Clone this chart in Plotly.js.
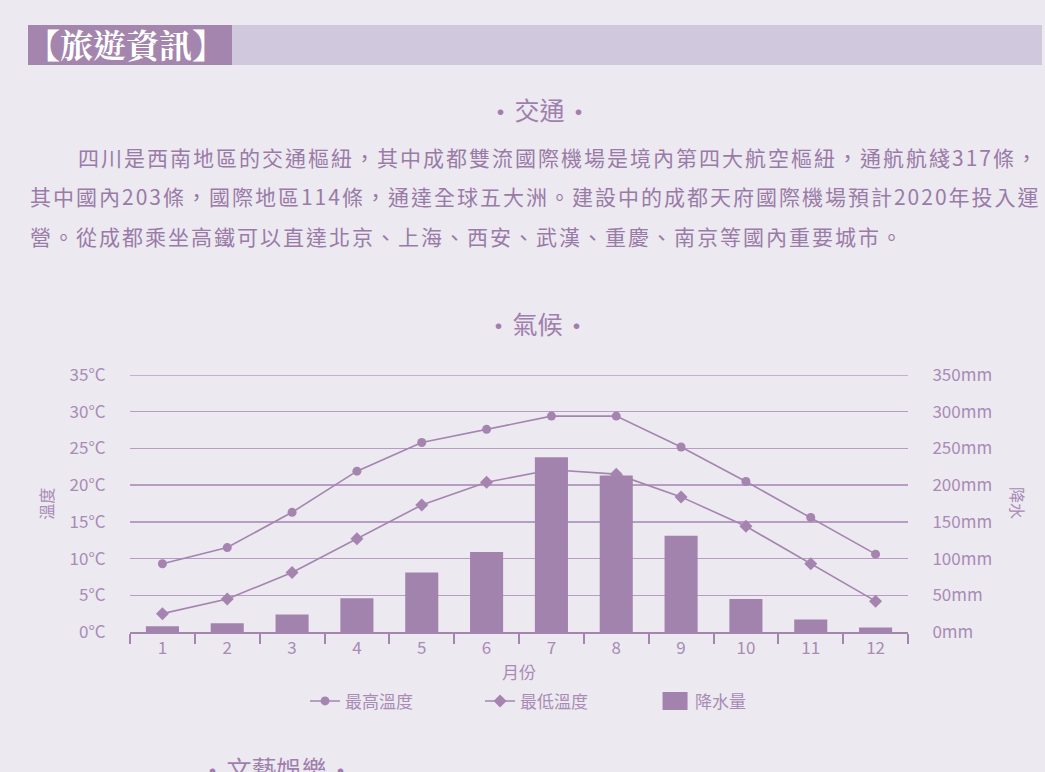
<!DOCTYPE html>
<html>
<head>
<meta charset="utf-8">
<script src="https://cdn.plot.ly/plotly-3.0.1.min.js"></script>
<style>
  html, body { margin:0; padding:0; }
  body { width:1045px; height:772px; background:#ECE9F1; overflow:hidden; position:relative;
         font-family:"Noto Sans CJK TC","Noto Sans CJK SC",sans-serif; }
  .hdr-dark { position:absolute; left:28px; top:25px; width:204px; height:40px; background:#A385AE; }
  .hdr-light { position:absolute; left:232px; top:25px; width:810px; height:40px; background:#D0C8DC; }
  .hdr-text { position:absolute; left:27px; top:24px; height:40px; line-height:40px; color:#fff;
              font-size:33px; font-weight:bold; letter-spacing:0px; font-family:"Noto Serif CJK TC","Noto Serif CJK SC",serif; white-space:nowrap; }
  .sec { position:absolute; width:1045px; left:0; text-align:center; color:#A07FAD; font-size:25px; white-space:nowrap; line-height:32px; height:32px; }
  .sec .dot { font-size:22px; font-weight:bold; margin:0 3px; }
  .para { position:absolute; white-space:nowrap; color:#9A7BA7; font-size:21px; letter-spacing:2px; height:40px; line-height:40px; }
  #chart { position:absolute; left:0; top:0; width:1045px; height:772px; }
</style>
</head>
<body>
<div class="hdr-dark"></div>
<div class="hdr-light"></div>
<div class="hdr-text">【旅遊資訊】</div>
<div class="sec" style="top:93px; left:17px;"><span class="dot">•</span>交通<span class="dot">•</span></div>
<div class="para" style="left:78px; top:137px;">四川是西南地區的交通樞紐，其中成都雙流國際機場是境內第四大航空樞紐，通航航綫317條，</div>
<div class="para" style="left:30px; top:176px;">其中國內203條，國際地區114條，通達全球五大洲。建設中的成都天府國際機場預計2020年投入運</div>
<div class="para" style="left:30px; top:216px;">營。從成都乘坐高鐵可以直達北京、上海、西安、武漢、重慶、南京等國內重要城市。</div>
<div class="sec" style="top:307px; left:15px;"><span class="dot">•</span>氣候<span class="dot">•</span></div>
<div class="sec" style="top:752px; left:-246px;"><span class="dot">•</span>文藝娛樂<span class="dot">•</span></div>
<div id="chart"></div>
<script>
const months = ['1','2','3','4','5','6','7','8','9','10','11','12'];
const tempMax = [9.3, 11.5, 16.3, 21.9, 25.8, 27.6, 29.4, 29.4, 25.2, 20.5, 15.6, 10.6];
const tempMin = [2.5, 4.5, 8.1, 12.7, 17.3, 20.4, 22.1, 21.5, 18.4, 14.4, 9.3, 4.2];
const precip = [8, 12, 24, 46, 81, 109, 238, 213, 131, 45, 17, 6];
const tempTicks = [0,5,10,15,20,25,30,35];
const tempTickText = ['0°C','5°C','10°C','15°C','20°C','25°C','30°C','35°C'];
const rainTicks = [0,50,100,150,200,250,300,350];
const rainTickText = ['0mm','50mm','100mm','150mm','200mm','250mm','300mm','350mm'];
const seriesNames = ['最高溫度','最低溫度','降水量'];

const purple = '#A584B0';
const barColor = '#A283AE';
const textColor = '#A98BB5';
const gridColor = '#B79DC3';
const font = '"Noto Sans CJK TC","Noto Sans CJK SC",sans-serif';

const traces = [
  { x: months, y: tempMax, name: seriesNames[0], type:'scatter', mode:'lines+markers',
    line:{color:purple, width:1.6}, marker:{symbol:'circle', size:9, color:purple}, yaxis:'y' },
  { x: months, y: tempMin, name: seriesNames[1], type:'scatter', mode:'lines+markers',
    line:{color:purple, width:1.6}, marker:{symbol:'diamond', size:10, color:purple}, yaxis:'y' },
  { x: months, y: precip, name: seriesNames[2], type:'bar', marker:{color:barColor},
    width:0.51, yaxis:'y2' }
];

const layout = {
  width:1045, height:772,
  paper_bgcolor:'rgba(0,0,0,0)', plot_bgcolor:'rgba(0,0,0,0)',
  margin:{l:130, r:137, t:375, b:140, autoexpand:false},
  font:{family:font, color:textColor, size:17},
  showlegend:true,
  legend:{orientation:'h', x:0.225, xanchor:'left', y:-0.27, yanchor:'middle',
          font:{size:17, color:textColor}, entrywidth:130, entrywidthmode:'pixels',
          bgcolor:'rgba(0,0,0,0)', traceorder:'normal'},
  xaxis:{type:'category', range:[-0.5, 11.5], tickson:'boundaries', ticks:'outside', ticklen:10, tickwidth:2,
         tickcolor:purple, showline:true, linecolor:purple, linewidth:2, showgrid:false,
         zeroline:false, tickfont:{size:17, color:textColor},
         title:{text:'月份', font:{size:17, color:textColor}, standoff:9}},
  yaxis:{range:[0,35], tickvals:tempTicks, ticktext:tempTickText, showgrid:true,
         gridcolor:gridColor, gridwidth:1.5, zeroline:false, showline:false,
         ticks:'outside', ticklen:20, tickcolor:'rgba(0,0,0,0)',
         tickfont:{size:17, color:textColor}},
  yaxis2:{range:[0,350], tickvals:rainTicks, ticktext:rainTickText, overlaying:'y', side:'right',
          showgrid:false, zeroline:false, showline:false, ticks:'outside', ticklen:20,
          tickcolor:'rgba(0,0,0,0)', tickfont:{size:17, color:textColor}},
  shapes:[
    {type:'line', xref:'paper', x0:0, x1:1, yref:'y', y0:tempTicks[tempTicks.length-1], y1:tempTicks[tempTicks.length-1],
     line:{color:gridColor, width:1.5}, layer:'below'}
  ],
  annotations:[
    {text:'溫度', xref:'paper', yref:'paper', x:-0.109, y:0.5, xanchor:'center', yanchor:'middle',
     textangle:-90, showarrow:false, font:{size:16, color:textColor}},
    {text:'降水', xref:'paper', yref:'paper', x:1.142, y:0.5, xanchor:'center', yanchor:'middle',
     textangle:90, showarrow:false, font:{size:16, color:textColor}}
  ],
  bargap:0.49
};

function fixLegendBox(){
  const items = document.querySelectorAll('.legend .traces');
  if (items.length >= 3) {
    items[2].querySelectorAll('.legendpoints path').forEach(function(p){
      p.setAttribute('d', 'M12.5,9H-12.5V-9H12.5Z');
    });
  }
}
Plotly.newPlot('chart', traces, layout, {displayModeBar:false, staticPlot:true}).then(function(){
  fixLegendBox();
  setTimeout(fixLegendBox, 50);
  setTimeout(fixLegendBox, 300);
});
</script>
</body>
</html>
